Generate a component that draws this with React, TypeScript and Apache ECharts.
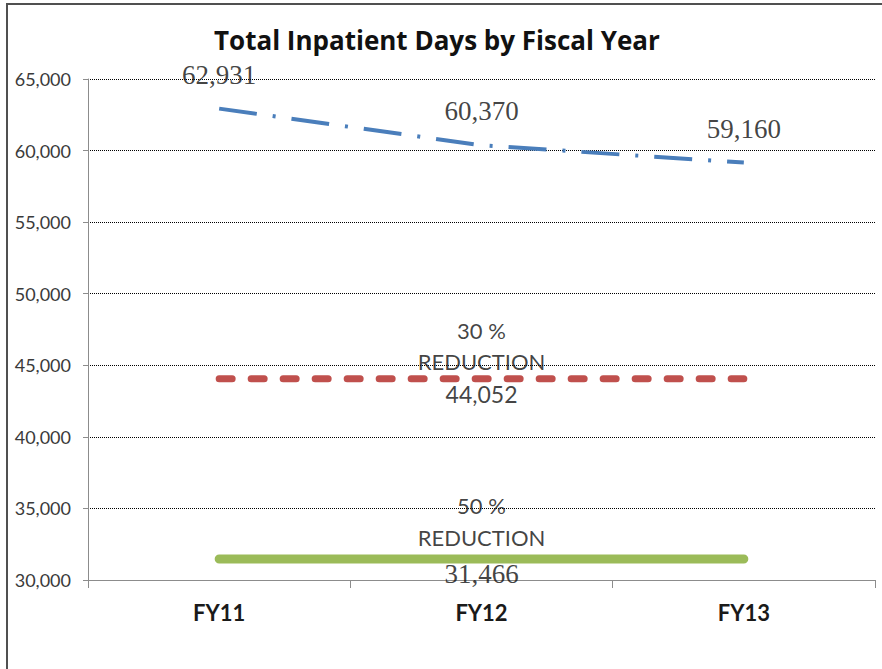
import React, { useEffect, useRef } from "react";
import * as echarts from "echarts";

const categories = ["FY11", "FY12", "FY13"];
const totalDays = [62931, 60370, 59160];
const reduction30 = [44052, 44052, 44052];
const reduction50 = [31466, 31466, 31466];
const yTicks = { min: 30000, max: 65000, interval: 5000 };
const reduction30Label = "30 %\nREDUCTION";
const reduction50Label = "50 %\nREDUCTION";
const titleText = "Total Inpatient Days by Fiscal Year";

const fmt = (v: number) => v.toLocaleString("en-US");

export default function App() {
  const ref = useRef<HTMLDivElement>(null);
  useEffect(() => {
    if (!ref.current) return;
    const chart = echarts.init(ref.current, null, { renderer: "svg" });
    const sans = "Lato, 'Open Sans', sans-serif";
    const serif = "'Liberation Serif', 'DejaVu Serif', serif";
    const hidden = { color: "rgba(0,0,0,0)" };
    const midOnly = (arr: number[], label: any) =>
      arr.map((v, i) => (i === 1 ? { value: v, label: { show: true, ...label } } : { value: v, label: { show: false } }));
    chart.setOption({
      animation: false,
      backgroundColor: "#ffffff",
      title: {
        text: titleText,
        left: 209,
        top: 22,
        textStyle: { fontFamily: "'Open Sans', Lato, sans-serif", fontSize: 26, fontWeight: "bold", color: "#111" },
      },
      graphic: [
        {
          type: "polyline",
          shape: { points: [[7, 669], [7, 4], [882, 4]] },
          style: { fill: "none", stroke: "#505050", lineWidth: 2 },
          silent: true,
        },
      ],
      grid: { left: 88, right: 7, top: 79, bottom: 89, containLabel: false },
      xAxis: {
        type: "category",
        data: categories,
        boundaryGap: true,
        axisLine: { show: true, lineStyle: { color: "#8c8c8c", width: 1 } },
        axisTick: { show: true, length: 8, lineStyle: { color: "#8c8c8c" } },
        axisLabel: { fontFamily: sans, fontSize: 22, fontWeight: "bold", color: "#1a1a1a", margin: 21 },
        splitLine: { show: false },
      },
      yAxis: {
        type: "value",
        min: yTicks.min,
        max: yTicks.max,
        interval: yTicks.interval,
        axisLine: { show: true, lineStyle: { color: "#8c8c8c", width: 1 } },
        axisTick: { show: true, length: 5, lineStyle: { color: "#8c8c8c" } },
        axisLabel: { fontFamily: sans, fontSize: 18, color: "#3a3a3a", margin: 17, formatter: (v: number) => fmt(v) },
        splitLine: { show: true, lineStyle: { type: "dotted", color: "#000", width: 1 } },
      },
      series: [
        {
          type: "line",
          data: totalDays,
          symbol: "none",
          lineStyle: { color: "#4A7EBB", width: 4, type: [38, 16, 3, 16], cap: "butt" },
          z: 5,
        },
        {
          type: "scatter",
          data: totalDays,
          symbolSize: 1,
          itemStyle: hidden,
          label: {
            show: true,
            position: "top",
            distance: 20,
            fontFamily: serif,
            fontSize: 27,
            color: "#111",
            formatter: (p: any) => fmt(p.value),
          },
          z: 6,
        },
        {
          type: "line",
          data: reduction30,
          symbol: "none",
          lineStyle: { color: "#C0504D", width: 7, type: [13, 19], cap: "round" },
          z: 4,
        },
        {
          type: "scatter",
          data: midOnly(reduction30, {
            position: "top",
            distance: 1,
            formatter: reduction30Label,
            lineHeight: 31,
          }),
          symbolSize: 1,
          itemStyle: hidden,
          label: { fontFamily: sans, fontSize: 22, color: "#111" },
          z: 6,
        },
        {
          type: "scatter",
          data: midOnly(reduction30, {
            position: "bottom",
            distance: 3,
            formatter: (p: any) => fmt(p.value),
          }),
          symbolSize: 1,
          itemStyle: hidden,
          label: { fontFamily: sans, fontSize: 23, color: "#111" },
          z: 6,
        },
        {
          type: "line",
          data: reduction50,
          symbol: "none",
          lineStyle: { color: "#9BBB59", width: 9, type: "solid", cap: "round" },
          z: 4,
        },
        {
          type: "scatter",
          data: midOnly(reduction50, {
            position: "top",
            distance: 5,
            formatter: reduction50Label,
            lineHeight: 32,
          }),
          symbolSize: 1,
          itemStyle: hidden,
          label: { fontFamily: sans, fontSize: 22, color: "#111" },
          z: 6,
        },
        {
          type: "scatter",
          data: midOnly(reduction50, {
            position: "bottom",
            distance: 1,
            formatter: (p: any) => fmt(p.value),
          }),
          symbolSize: 1,
          itemStyle: hidden,
          label: { fontFamily: serif, fontSize: 27, color: "#111" },
          z: 6,
        },
      ],
    });
    return () => chart.dispose();
  }, []);
  return (
    <div
      ref={ref}
      style={{ position: "fixed", left: 0, top: 0, width: 882, height: 669, background: "#fff" }}
    />
  );
}
